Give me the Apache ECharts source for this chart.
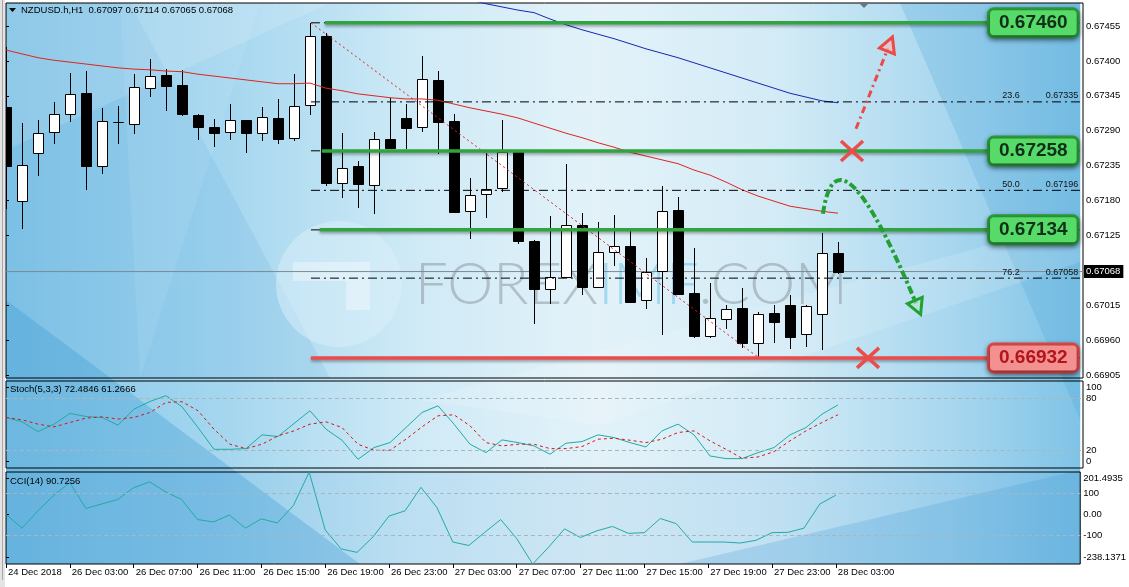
<!DOCTYPE html>
<html><head><meta charset="utf-8">
<script src="https://cdn.jsdelivr.net/npm/echarts@6/dist/echarts.min.js"></script>
<style>html,body{margin:0;padding:0;background:#fff;}#c{width:1129px;height:587px;}</style>
</head><body><div id="c"></div>
<script>
// ---------- DATA ----------
const timeLabels = ['24 Dec 2018','26 Dec 03:00','26 Dec 07:00','26 Dec 11:00','26 Dec 15:00','26 Dec 19:00','26 Dec 23:00','27 Dec 03:00','27 Dec 07:00','27 Dec 11:00','27 Dec 15:00','27 Dec 19:00','27 Dec 23:00','28 Dec 03:00'];
const priceTickLabels = ['0.67455','0.67400','0.67345','0.67290','0.67235','0.67180','0.67125','0.67015','0.66960','0.66905'];
const stochTickLabels = ['0','20','80','100'];
const cciTickLabels = ['201.4935','100','0.00','-100','-238.1371'];

const open  = [0.67327,0.67179,0.67255,0.67288,0.67316,0.67349,0.67234,0.67304,0.67301,0.67357,0.67378,0.67362,0.67315,0.67296,0.67288,0.67307,0.67286,0.67310,0.67279,0.67331,0.67439,0.67208,0.67234,0.67205,0.67277,0.67310,0.67296,0.67370,0.67305,0.67164,0.67190,0.67200,0.67256,0.67116,0.67041,0.67060,0.67141,0.67044,0.67099,0.67108,0.67023,0.67069,0.67165,0.67034,0.66967,0.66993,0.67011,0.66955,0.67003,0.67015,0.66970,0.67001,0.67097];
const high  = [0.67422,0.67302,0.67307,0.67335,0.67381,0.67384,0.67326,0.67329,0.67379,0.67403,0.67387,0.67386,0.67316,0.67308,0.67332,0.67307,0.67327,0.67340,0.67379,0.67460,0.67444,0.67286,0.67242,0.67288,0.67342,0.67332,0.67408,0.67384,0.67316,0.67216,0.67255,0.67307,0.67256,0.67118,0.67156,0.67238,0.67160,0.67146,0.67157,0.67137,0.67089,0.67203,0.67186,0.67105,0.67050,0.67015,0.67042,0.67004,0.67015,0.67031,0.67015,0.67129,0.67114];
const low   = [0.67168,0.67137,0.67220,0.67271,0.67305,0.67198,0.67223,0.67271,0.67286,0.67345,0.67323,0.67315,0.67277,0.67266,0.67277,0.67256,0.67275,0.67271,0.67275,0.67316,0.67205,0.67186,0.67170,0.67160,0.67263,0.67263,0.67290,0.67255,0.67162,0.67121,0.67154,0.67195,0.67113,0.66987,0.67019,0.67060,0.67033,0.67044,0.67078,0.67020,0.67011,0.66970,0.67033,0.66965,0.66965,0.66979,0.66949,0.66932,0.66957,0.66948,0.66951,0.66946,0.67065];
const close = [0.67234,0.67236,0.67286,0.67316,0.67348,0.67234,0.67305,0.67303,0.67359,0.67376,0.67360,0.67316,0.67296,0.67286,0.67307,0.67286,0.67312,0.67277,0.67329,0.67439,0.67208,0.67231,0.67206,0.67277,0.67263,0.67294,0.67372,0.67304,0.67162,0.67189,0.67198,0.67256,0.67116,0.67041,0.67060,0.67141,0.67044,0.67099,0.67108,0.67020,0.67067,0.67164,0.67033,0.66967,0.66995,0.67009,0.66955,0.67001,0.66989,0.66965,0.67014,0.67097,0.67068];

const maRed = [0.67417,0.67411,0.67405,0.67401,0.67398,0.67395,0.67392,0.67389,0.67387,0.67386,0.67384,0.67383,0.67379,0.67376,0.67373,0.67370,0.67367,0.67364,0.67364,0.67365,0.67357,0.67353,0.67348,0.67345,0.67342,0.67340,0.67340,0.67338,0.67332,0.67326,0.67321,0.67316,0.67310,0.67302,0.67294,0.67286,0.67279,0.67271,0.67264,0.67256,0.67250,0.67244,0.67238,0.67228,0.67220,0.67209,0.67197,0.67187,0.67179,0.67171,0.67167,0.67163,0.67160];
const maBlue = [null,null,null,null,null,null,null,null,null,null,null,null,null,null,null,null,null,null,null,null,null,null,null,null,null,null,null,0.67509,0.67502,0.67496,0.67490,0.67485,0.67480,0.67476,0.67466,0.67457,0.67449,0.67442,0.67435,0.67427,0.67419,0.67412,0.67405,0.67397,0.67389,0.67381,0.67373,0.67365,0.67357,0.67349,0.67343,0.67337,0.67334];

const stochK = [58.1,53.1,41.9,50.4,62.7,59.2,58.1,49.2,67.7,76.5,83.1,70.4,46.5,21.5,21.5,22.3,38.1,36.2,51.2,65.8,44.6,31.9,10.0,23.5,29.2,46.5,63.8,71.5,50.4,27.3,17.7,32.3,29.2,25.4,15.8,28.5,30.4,38.1,35.0,29.2,24.2,42.7,50.4,38.1,13.8,10.8,10.8,17.7,23.5,38.1,46.5,61.9,72.48];
const stochD = [58.1,55.4,50.4,47.3,52.3,57.3,58.8,56.2,58.1,63.8,75.4,76.2,65.8,44.6,27.3,22.3,27.3,36.9,42.7,50.4,53.1,46.5,27.3,20.4,20.4,33.1,47.3,60.0,61.2,48.5,29.2,25.4,27.3,27.3,22.3,22.3,24.6,33.1,34.2,31.9,29.2,33.1,40.8,42.7,31.2,21.5,11.2,12.7,18.8,31.2,42.7,52.3,61.27];
const cci = [-0.8,-66.9,15.7,90.1,151.2,27.3,48.8,70.2,126.4,154.5,106.6,70.2,-25.6,-37.2,-4.1,-66.9,-22.3,-42.1,40.5,201.49,-75.2,-166.1,-182.6,-108.3,-9.1,15.7,128.1,32.2,-133.1,-149.6,-86.8,-25.6,-116.5,-238.14,-157.9,-70.2,-111.6,-80.2,-58.7,-91.7,-88.4,-20.7,-45.5,-133.1,-133.1,-133.1,-138.0,-124.8,-88.4,-86.8,-66.9,48.8,90.73];

const symbolName = 'NZDUSD.h,H1';
const stochTitle = 'Stoch(5,3,3) 72.4846 61.2666';
const cciTitle = 'CCI(14) 90.7256';

// Fibonacci retracement (bar index of high -> bar index of low)
const fibHigh = 0.67460, fibLow = 0.66932;
const fibFromBar = 19.06, fibToBar = 47.06;
const fibLevels = [0, 23.6, 38.2, 50.0, 61.8, 76.2, 100];
const fibLabeled = [23.6, 50.0, 76.2];

// horizontal levels
const greenLevels = ['0.67460', '0.67258', '0.67134'];
const greenFromBar = [19.94, 19.75, 19.6];
const redLevels = ['0.66932'];
const redFromBar = [19.06];
const levelToBar = 61.5;
const lastPrice = 0.67068;

// hand-drawn annotations, in [bar index, price]
const redArrow = [[53.125, 0.67293], [55.125, 0.67420]];
const greenCurve = [[51.06, 0.67159], [51.5, 0.67236], [52.875, 0.67260], [56.875, 0.67018]];
const crossMarks = [[52.875, 0.67258], [53.875, 0.66932]];

// ---------- CHART ----------
const XMAX = 67.3125;
const yMin = 0.669003, yMax = 0.674912;
const cciMin = -238.1371, cciMax = 201.4935;
const FONT = 'Liberation Sans, Arial, sans-serif';
const idx = arr => arr.map((v, i) => [i, v]);
const candleData = open.map((o, i) => [i, o, high[i], low[i], close[i]]);
const timeTickValues = timeLabels.map((_, k) => k * 4);
const priceTickValues = priceTickLabels.map(parseFloat);

// MetaTrader pushes the pane's end labels inside the pane (about 6.5 px)
const STOCH_PX = 87 / 100, CCI_PX = 92 / (cciMax - cciMin), EDGE = 6.5;
const stochLabelPos = stochTickLabels.map(s => { const v = parseFloat(s); return v === 0 ? v + EDGE / STOCH_PX : v === 100 ? v - EDGE / STOCH_PX : v; });
const cciLabelPos = cciTickLabels.map(s => { const v = parseFloat(s); return v === cciMin ? v + EDGE / CCI_PX : v === cciMax ? v - EDGE / CCI_PX : v; });
const lookup = (pos, labels) => v => { const k = pos.findIndex(t => Math.abs(t - v) < 1e-6); return k >= 0 ? labels[k] : ''; };

const chart = echarts.init(document.getElementById('c'), null, {renderer: 'canvas'});

const gridBase = {left: 6, width: 1077, show: true, borderColor: '#000', borderWidth: 1, backgroundColor: 'transparent'};
const hiddenX = g => ({gridIndex: g, type: 'value', min: 0, max: XMAX, show: false, axisLine: {onZero: false}});
const labelStyle = {fontSize: 9.5, color: '#000', fontFamily: FONT};

const series = [];
// bid line
series.push({
  type: 'line', xAxisIndex: 0, yAxisIndex: 0, z: 1, silent: true, symbol: 'none',
  data: [[0, lastPrice], [XMAX, lastPrice]],
  lineStyle: {color: '#7b8a94', width: 1},
  endLabel: {show: true, formatter: lastPrice.toFixed(5), backgroundColor: '#000', color: '#fff',
    padding: [2, 3, 1, 2], fontSize: 9.5, fontFamily: FONT, distance: 1}
});
// candles
series.push({
  type: 'custom', xAxisIndex: 0, yAxisIndex: 0, z: 3, clip: true, silent: true,
  data: candleData, encode: {x: 0, y: [1, 2, 3, 4]},
  renderItem: function (params, api) {
    const i = api.value(0), o = api.value(1), h = api.value(2), l = api.value(3), c = api.value(4);
    const pO = api.coord([i, o]), pC = api.coord([i, c]), pH = api.coord([i, h]), pL = api.coord([i, l]);
    const cx = Math.round(pO[0]);
    const top = Math.round(Math.min(pO[1], pC[1])), bot = Math.round(Math.max(pO[1], pC[1]));
    const bull = c >= o;
    return {type: 'group', children: [
      {type: 'line', shape: {x1: cx + 0.5, y1: Math.round(pH[1]), x2: cx + 0.5, y2: Math.round(pL[1]) + 1},
        style: {stroke: '#000', lineWidth: 1}},
      {type: 'rect', shape: {x: cx - 4.5, y: top + 0.5, width: 10, height: Math.max(bot - top, 0)},
        style: {fill: bull ? '#fff' : '#000', stroke: '#000', lineWidth: 1}}
    ]};
  }
});
// moving averages
series.push({type: 'line', xAxisIndex: 0, yAxisIndex: 0, z: 4, silent: true, symbol: 'none',
  data: idx(maRed), lineStyle: {color: '#e0241e', width: 1}});
series.push({type: 'line', xAxisIndex: 0, yAxisIndex: 0, z: 4, silent: true, symbol: 'none',
  data: idx(maBlue).filter(d => d[1] != null), lineStyle: {color: '#1626b4', width: 1}});
// fibonacci levels
const fibPrice = r => fibHigh - r / 100 * (fibHigh - fibLow);
fibLevels.forEach(r => {
  series.push({type: 'line', xAxisIndex: 0, yAxisIndex: 0, z: 4, silent: true, symbol: 'none',
    data: [[fibFromBar, fibPrice(r)], [XMAX, fibPrice(r)]],
    lineStyle: {color: '#000', width: 1, type: [9, 4, 2, 4]}});
});
series.push({type: 'line', xAxisIndex: 0, yAxisIndex: 0, z: 4, silent: true, symbol: 'none',
  data: [[fibFromBar, fibHigh], [fibToBar, fibLow]],
  lineStyle: {color: '#e02020', width: 1, type: [2, 3]}});
// support / resistance lines with boxes
function levelSeries(valStr, from, col, boxFill, boxBorder, txt) {
  const v = parseFloat(valStr);
  return {type: 'line', xAxisIndex: 0, yAxisIndex: 0, z: 6, silent: true, symbol: 'none', clip: false,
    data: [[from, v], [levelToBar, v]],
    lineStyle: {color: col, width: 3.5, shadowColor: 'rgba(0,0,0,0.35)', shadowBlur: 3, shadowOffsetY: 2},
    endLabel: {show: true, formatter: valStr, distance: 0, backgroundColor: boxFill, borderColor: boxBorder,
      borderWidth: 3, borderRadius: 4, padding: [3, 9, 2, 9], color: txt, fontSize: 19, fontWeight: 'bold',
      fontFamily: FONT, lineHeight: 20, shadowColor: 'rgba(0,0,0,0.45)', shadowBlur: 5, shadowOffsetY: 2}};
}
greenLevels.forEach((s, k) => series.push(levelSeries(s, greenFromBar[k], '#2fa43f', '#56da68', '#2b9b3a', '#10301a')));
redLevels.forEach((s, k) => series.push(levelSeries(s, redFromBar[k], '#ec4b4b', '#f39090', '#de4646', '#b3141b')));
// stochastic
series.push({type: 'line', xAxisIndex: 1, yAxisIndex: 1, z: 4, silent: true, symbol: 'none',
  data: idx(stochK), lineStyle: {color: '#22aaa4', width: 1},
  markLine: {silent: true, symbol: ['none', 'none'], label: {show: false},
    lineStyle: {color: '#aab6bd', type: [4, 3], width: 1}, data: [{yAxis: 80}, {yAxis: 20}]}});
series.push({type: 'line', xAxisIndex: 1, yAxisIndex: 1, z: 4, silent: true, symbol: 'none',
  data: idx(stochD), lineStyle: {color: '#d41818', width: 1, type: [3, 3]}});
// CCI
series.push({type: 'line', xAxisIndex: 2, yAxisIndex: 2, z: 4, silent: true, symbol: 'none',
  data: idx(cci), lineStyle: {color: '#22aaa4', width: 1},
  markLine: {silent: true, symbol: ['none', 'none'], label: {show: false},
    lineStyle: {color: '#aab6bd', type: [4, 3], width: 1}, data: [{yAxis: 100}, {yAxis: -100}]}});

const option = {
  animation: false,
  backgroundColor: '#ffffff',
  textStyle: {fontFamily: FONT},
  grid: [
    Object.assign({top: 3, height: 375}, gridBase),
    Object.assign({top: 381, height: 87}, gridBase),
    Object.assign({top: 472, height: 92}, gridBase)
  ],
  xAxis: [hiddenX(0), hiddenX(1), {
    gridIndex: 2, type: 'value', min: 0, max: XMAX, position: 'bottom',
    axisLine: {show: false, onZero: false}, splitLine: {show: false},
    axisTick: {show: true, customValues: timeTickValues, length: 4, lineStyle: {color: '#000'}},
    axisLabel: Object.assign({customValues: timeTickValues, align: 'left', margin: 3, padding: [0, 0, 0, 2],
      formatter: v => timeLabels[Math.round(v / 4)] || ''}, labelStyle)
  }],
  yAxis: [
    {gridIndex: 0, type: 'value', position: 'right', min: yMin, max: yMax,
      axisLine: {show: false}, splitLine: {show: false},
      axisTick: {show: true, customValues: priceTickValues, length: 3, lineStyle: {color: '#000'}},
      axisLabel: Object.assign({customValues: priceTickValues, margin: 3, formatter: v => v.toFixed(5)}, labelStyle)},
    {gridIndex: 1, type: 'value', position: 'right', min: 0, max: 100,
      axisLine: {show: false}, splitLine: {show: false},
      axisTick: {show: true, customValues: stochLabelPos, length: 3, lineStyle: {color: '#000'}},
      axisLabel: Object.assign({customValues: stochLabelPos, margin: 3,
        formatter: lookup(stochLabelPos, stochTickLabels)}, labelStyle)},
    {gridIndex: 2, type: 'value', position: 'right', min: cciMin, max: cciMax,
      axisLine: {show: false}, splitLine: {show: false},
      axisTick: {show: true, customValues: cciLabelPos, length: 3, lineStyle: {color: '#000'}},
      axisLabel: Object.assign({customValues: cciLabelPos, margin: 3,
        formatter: lookup(cciLabelPos, cciTickLabels)}, labelStyle)}
  ],
  series: series
};
chart.setOption(option);

// ---------- DECORATION & ANNOTATIONS ----------
const P = (g, x, y) => chart.convertToPixel({gridIndex: g}, [x, y]);
const tl = P(0, 0, yMax), br = P(2, XMAX, cciMin);
const L = tl[0], T = tl[1], R = br[0], B = br[1];
const mainBottom = P(0, 0, yMin)[1], cciTop = P(2, 0, cciMax)[1];
const els = [];
els.push({type: 'rect', z: -20, silent: true, shape: {x: L, y: T, width: R - L, height: B - T},
  style: {fill: new echarts.graphic.LinearGradient(0, 0, 1, 0, [
    {offset: 0, color: '#86c7e8'}, {offset: 0.2, color: '#a4d6ef'}, {offset: 0.38, color: '#cfeaf6'},
    {offset: 0.55, color: '#e3f2f9'}, {offset: 0.72, color: '#d3ebf6'}, {offset: 0.88, color: '#a8d7ef'},
    {offset: 1, color: '#80c3e6'}])}});
const poly = (pts, fill) => els.push({type: 'polygon', z: -19, silent: true, shape: {points: pts}, style: {fill: fill}});
poly([[L, T], [130, T], [330, mainBottom], [L, mainBottom]], 'rgba(60,150,210,0.12)');
poly([[L, 300], [360, B], [L, B]], 'rgba(50,150,210,0.30)');
poly([[L, T], [330, T], [L, 150]], 'rgba(255,255,255,0.14)');
poly([[900, T], [R, T], [R, 420]], 'rgba(70,160,215,0.22)');
poly([[420, 400], [R, 220], [R, 262], [600, 425]], 'rgba(255,255,255,0.14)');
poly([[680, B], [R, 470], [R, B]], 'rgba(70,160,214,0.25)');
poly([[120, T], [260, T], [140, 378]], 'rgba(255,255,255,0.08)');
els.push({type: 'rect', z: -19, silent: true, shape: {x: L, y: cciTop, width: R - L, height: B - cciTop},
  style: {fill: 'rgba(60,150,210,0.12)'}});
// watermark logo
els.push({type: 'circle', z: -15, silent: true, shape: {cx: 339, cy: 284, r: 63}, style: {fill: 'rgba(220,240,250,0.5)'}});
els.push({type: 'polygon', z: -14, silent: true, shape: {points: [[293, 262], [370, 262], [370, 310], [346, 310], [346, 281], [293, 281]]},
  style: {fill: 'rgba(255,255,255,0.35)'}});
els.push({type: 'text', z: -14, silent: true, x: 415, y: 285, style: {
  text: '{g|FOREX}{b|IMF}{g|.COM}', verticalAlign: 'middle', align: 'left',
  rich: {g: {fill: 'rgba(130,141,149,0.48)', fontSize: 58, fontFamily: 'Lato, sans-serif', fontWeight: 300},
         b: {fill: 'rgba(110,196,235,0.55)', fontSize: 58, fontFamily: 'Lato, sans-serif', fontWeight: 300}}}});
// left window strip and marker
els.push({type: 'rect', z: 20, silent: true, shape: {x: 0, y: 0, width: 5, height: 587}, style: {fill: '#e4e4e4'}});
els.push({type: 'line', z: 21, silent: true, shape: {x1: 2.5, y1: 0, x2: 2.5, y2: 580}, style: {stroke: '#a8a8a8', lineWidth: 1}});
els.push({type: 'polygon', z: 20, silent: true, shape: {points: [[858, 2], [870, 2], [864, 8]]}, style: {fill: '#6f747a'}});
// headers
els.push({type: 'polygon', z: 20, silent: true, shape: {points: [[9, 8], [16, 8], [12.5, 12]]}, style: {fill: '#000'}});
const hdr = symbolName + '  ' + [open[52], high[52], low[52], close[52]].map(v => v.toFixed(5)).join(' ');
const txt = (x, y, s, extra) => els.push({type: 'text', z: 20, silent: true, x: x, y: y,
  style: Object.assign({text: s, fill: '#000', fontSize: 9.5, fontFamily: FONT, verticalAlign: 'middle', align: 'left'}, extra || {})});
txt(21, 10, hdr);
txt(10, 389, stochTitle);
txt(10, 481, cciTitle);
// fibonacci labels
fibLabeled.forEach(r => {
  const y = P(0, XMAX, fibPrice(r))[1] - 6;
  txt(R - 78, y, r.toFixed(1), {fontSize: 9, fill: '#111'});
  txt(R - 2, y, fibPrice(r).toFixed(5), {fontSize: 9, fill: '#111', align: 'right'});
});
// arrowhead helper
function arrowHead(tip, d, col, light) {
  const Lh = 15, Wh = 8;
  const bx = tip[0] - d[0] * Lh, by = tip[1] - d[1] * Lh;
  const nx = -d[1], ny = d[0];
  els.push({type: 'polygon', z: 31, silent: true,
    shape: {points: [tip, [bx + nx * Wh, by + ny * Wh], [bx - nx * Wh, by - ny * Wh]]},
    style: {fill: light, stroke: col, lineWidth: 3, lineJoin: 'miter'}});
}
function unit(a, b) { const dx = b[0] - a[0], dy = b[1] - a[1], n = Math.hypot(dx, dy); return [dx / n, dy / n]; }
// red arrow
{
  const s = P(0, redArrow[0][0], redArrow[0][1]), e = P(0, redArrow[1][0], redArrow[1][1]);
  const d = unit(s, e);
  els.push({type: 'line', z: 30, silent: true, shape: {x1: s[0], y1: s[1], x2: e[0], y2: e[1]},
    style: {stroke: '#ea4a48', lineWidth: 3, lineDash: [7, 4, 2, 4]}});
  arrowHead([e[0] + d[0] * 12, e[1] + d[1] * 12], d, '#ea4a48', 'rgba(245,190,190,0.7)');
}
// green curved arrow
{
  const p = greenCurve.map(q => P(0, q[0], q[1]));
  els.push({type: 'bezierCurve', z: 30, silent: true,
    shape: {x1: p[0][0], y1: p[0][1], cpx1: p[1][0], cpy1: p[1][1], cpx2: p[2][0], cpy2: p[2][1], x2: p[3][0], y2: p[3][1]},
    style: {stroke: '#23a035', lineWidth: 4, lineDash: [8, 3, 3, 3], fill: null}});
  const d = unit(p[2], p[3]);
  arrowHead([p[3][0] + d[0] * 12, p[3][1] + d[1] * 12], d, '#23a035', 'rgba(180,230,190,0.6)');
}
// cross marks
crossMarks.forEach(q => {
  const c = P(0, q[0], q[1]);
  const hx = 11, hy = 10;
  [[-1, -1, 1, 1], [-1, 1, 1, -1]].forEach(s => els.push({type: 'line', z: 32, silent: true,
    shape: {x1: c[0] + s[0] * hx, y1: c[1] + s[1] * hy, x2: c[0] + s[2] * hx, y2: c[1] + s[3] * hy},
    style: {stroke: '#ec4c4a', lineWidth: 3.5, lineCap: 'butt'}}));
});
chart.setOption({graphic: {elements: els}});
</script>
</body></html>
